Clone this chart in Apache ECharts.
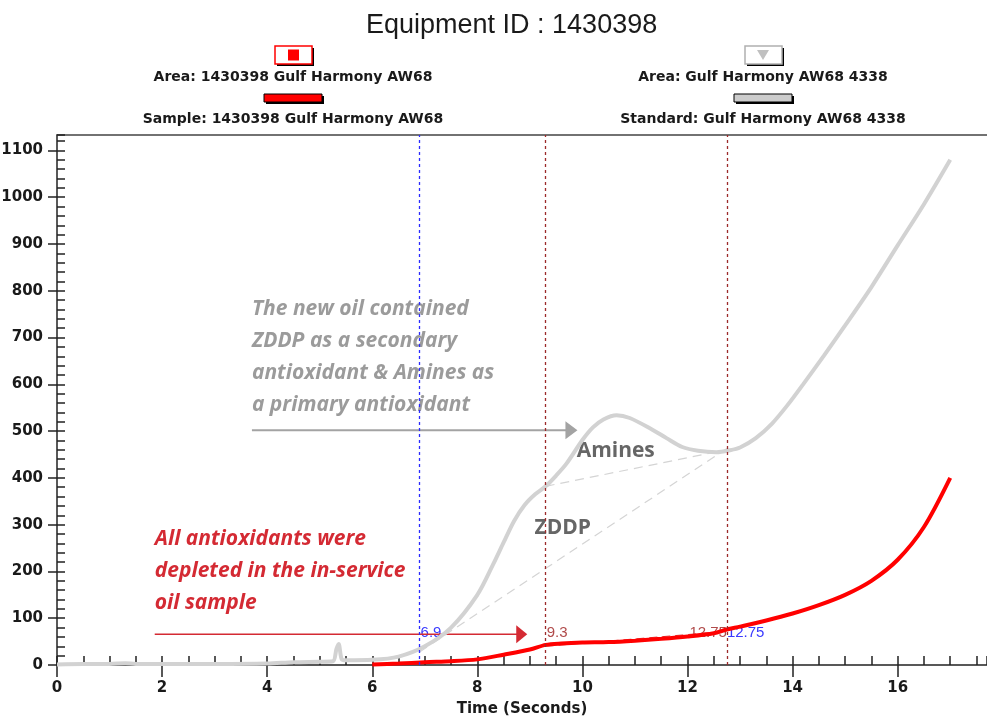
<!DOCTYPE html>
<html><head><meta charset="utf-8">
<script src="https://cdn.jsdelivr.net/npm/echarts@6/dist/echarts.min.js"></script>
<style>html,body{margin:0;padding:0;background:#fff}#c{width:987px;height:719px}</style>
</head><body><div id="c"></div>
<script>
// ---- data ----
var stdTime = [0, 0.5, 1, 1.3, 1.5, 2, 3, 4, 4.5, 5, 5.25, 5.32, 5.36, 5.42, 5.5, 6, 6.5, 7, 7.5, 8, 8.3, 8.5, 8.7, 8.9, 9.1, 9.3, 9.5, 9.7, 10, 10.2, 10.4, 10.65, 10.9, 11.3, 11.6, 11.9, 12.2, 12.55, 12.8, 13, 13.3, 13.6, 13.9, 14.2, 14.6, 15, 15.5, 16, 16.5, 17];
var stdVal  = [1, 2, 2, 4, 2, 2, 2, 3, 6, 7, 8, 35, 45, 12, 10, 11, 18, 40, 80, 150, 215, 262, 308, 342, 365, 382, 405, 431, 481, 508, 525, 534, 528, 505, 485, 466, 458, 455, 459, 465, 485, 515, 555, 600, 662, 726, 808, 897, 985, 1080];
var sampleTime = [6, 6.5, 7, 7.5, 8, 8.5, 9, 9.3, 9.6, 10, 10.5, 11, 11.5, 12, 12.5, 12.75, 13, 13.5, 14, 14.5, 15, 15.5, 16, 16.5, 17];
var sampleVal  = [1, 3, 6, 8, 12, 22, 33, 43, 46, 48, 49, 52, 56, 61, 68, 76, 82, 95, 110, 128, 150, 180, 225, 295, 400];
var aminesLine = [[9.3, 382], [12.75, 460]];
var zddpLine = [[6.9, 28], [12.75, 463]];
var sampleTangent = [[9.3, 40], [12.75, 72]];
var markerBlue = [6.9];
var markerRed = [9.3, 12.75];
var markerLabelY = 68;
var xTicks = {min: 0, max: 17.7, interval: 2, minor: 0.5};
var yTicks = {min: 0, max: 1133, interval: 100, minor: 20};
var titleText = 'Equipment ID : 1430398';
var legendLeft = ['Area: 1430398 Gulf Harmony AW68', 'Sample: 1430398 Gulf Harmony AW68'];
var legendRight = ['Area: Gulf Harmony AW68 4338', 'Standard: Gulf Harmony AW68 4338'];
var noteGray = ['The new oil contained', 'ZDDP as a secondary', 'antioxidant & Amines as', 'a primary antioxidant'];
var noteRed = ['All antioxidants were', 'depleted in the in-service', 'oil sample'];

function zip(a, b) { return a.map(function (v, i) { return [v, b[i]]; }); }

var chart = echarts.init(document.getElementById('c'), null, {renderer: 'canvas'});
var gridPos = {left: 57, right: 0, top: 135, bottom: 54, outerBoundsMode: 'none', containLabel: false};
var axisFont = {fontFamily: 'DejaVu Sans', fontWeight: 'bold', fontSize: 15, color: '#1a1a1a'};
var lineCol = '#222';

var option = {
  animation: false,
  backgroundColor: '#fff',
  title: {text: titleText, left: 361, top: 7,
    textStyle: {fontFamily: 'Liberation Sans', fontWeight: 'normal', fontSize: 27, color: '#1a1a1a'}},
  grid: [Object.assign({}, gridPos), Object.assign({}, gridPos)],
  xAxis: [
    {type: 'value', gridIndex: 0, min: xTicks.min, max: xTicks.max, interval: xTicks.interval, position: 'bottom',
     axisLine: {show: true, lineStyle: {color: lineCol, width: 1.5}},
     axisTick: {show: true, inside: false, length: 12, lineStyle: {color: lineCol, width: 1.5}},
     axisLabel: Object.assign({margin: 16, showMaxLabel: false}, axisFont),
     splitLine: {show: false},
     name: 'Time (Seconds)', nameLocation: 'middle', nameGap: 37,
     nameTextStyle: {fontFamily: 'DejaVu Sans', fontWeight: 'bold', fontSize: 15, color: '#1a1a1a'}},
    {type: 'value', gridIndex: 1, min: xTicks.min, max: xTicks.max, interval: xTicks.minor, position: 'bottom',
     axisLine: {show: false}, axisLabel: {show: false}, splitLine: {show: false},
     axisTick: {show: true, inside: true, length: 9, lineStyle: {color: lineCol, width: 1.5}}},
    {type: 'value', gridIndex: 1, min: xTicks.min, max: xTicks.max, position: 'top',
     axisLine: {show: true, lineStyle: {color: '#444', width: 1.5}}, axisLabel: {show: false},
     axisTick: {show: false}, splitLine: {show: false}}
  ],
  yAxis: [
    {type: 'value', gridIndex: 0, min: yTicks.min, max: yTicks.max, interval: yTicks.interval,
     axisLine: {show: true, lineStyle: {color: lineCol, width: 1.5}},
     axisTick: {show: true, inside: false, length: 9, lineStyle: {color: lineCol, width: 1.5}},
     axisLabel: Object.assign({margin: 14, showMaxLabel: false, formatter: function (v) { return String(v); }}, axisFont),
     splitLine: {show: false}},
    {type: 'value', gridIndex: 1, min: yTicks.min, max: yTicks.max, interval: yTicks.minor,
     axisLine: {show: false}, axisLabel: {show: false}, splitLine: {show: false},
     axisTick: {show: true, inside: true, length: 8, lineStyle: {color: lineCol, width: 1.5}}}
  ],
  series: [
    {type: 'line', name: 'zddp', data: zddpLine, showSymbol: false, silent: true,
     lineStyle: {color: '#d4d4d4', width: 1.2, type: [9, 6]}},
    {type: 'line', name: 'amines', data: aminesLine, showSymbol: false, silent: true,
     lineStyle: {color: '#d4d4d4', width: 1.2, type: [9, 6]}},
    {type: 'line', name: 'Standard', data: zip(stdTime, stdVal), showSymbol: false, smooth: 0.3,
     lineStyle: {color: '#d2d2d2', width: 4},
     markLine: {silent: true, symbol: 'none', label: {show: false},
       data: markerBlue.map(function (v) { return {xAxis: v, lineStyle: {color: '#2a2aff', type: [3, 3], width: 1.3}}; })
         .concat(markerRed.map(function (v) { return {xAxis: v, lineStyle: {color: '#9c2a2a', type: [3, 3], width: 1.3}}; }))}},
    {type: 'line', name: 'tangent', data: sampleTangent, showSymbol: false, silent: true,
     lineStyle: {color: '#e03030', width: 1, type: [8, 5]}},
    {type: 'line', name: 'Sample', data: zip(sampleTime, sampleVal), showSymbol: false, smooth: 0.3,
     lineStyle: {color: '#ff0000', width: 4}}
  ]
};
chart.setOption(option);

function px(x, y) { return chart.convertToPixel({gridIndex: 0}, [x, y]); }

var g = [];
function legendBlock(cx, icon, bar, texts) {
  var els = [];
  els.push({type: 'rect', shape: {x: cx - 18 + 2, y: 46 + 2, width: 37, height: 18}, style: {fill: '#000'}});
  els.push({type: 'rect', shape: {x: cx - 18, y: 46, width: 37, height: 18}, style: {fill: '#fff', stroke: icon.stroke, lineWidth: 1.5}});
  if (icon.kind === 'square') {
    els.push({type: 'rect', shape: {x: cx - 5, y: 49.5, width: 11, height: 11}, style: {fill: icon.fill}});
  } else {
    els.push({type: 'polygon', shape: {points: [[cx - 6, 50], [cx + 6, 50], [cx, 60]]}, style: {fill: icon.fill}});
  }
  els.push({type: 'rect', shape: {x: cx - 29 + 2, y: 94 + 2, width: 58, height: 8}, style: {fill: '#000'}});
  els.push({type: 'rect', shape: {x: cx - 29, y: 94, width: 58, height: 8}, style: {fill: bar, stroke: '#000', lineWidth: 1}});
  els.push({type: 'text', x: cx, y: 77, style: {text: texts[0], align: 'center', verticalAlign: 'middle',
    font: 'bold 14px "DejaVu Sans"', fill: '#1a1a1a'}});
  els.push({type: 'text', x: cx, y: 119, style: {text: texts[1], align: 'center', verticalAlign: 'middle',
    font: 'bold 14px "DejaVu Sans"', fill: '#1a1a1a'}});
  return els;
}
g = g.concat(legendBlock(293, {kind: 'square', stroke: '#ff0000', fill: '#ff0000'}, '#ff0000', legendLeft));
g = g.concat(legendBlock(763, {kind: 'tri', stroke: '#b0b0b0', fill: '#c0c0c0'}, '#cccccc', legendRight));

var lf = '15px "Liberation Sans"';
var pb = px(markerBlue[0], markerLabelY);
g.push({type: 'text', x: pb[0] + 1, y: pb[1], style: {text: String(markerBlue[0]), align: 'left', verticalAlign: 'middle', font: lf, fill: '#3a3aff'}});
var p1 = px(markerRed[0], markerLabelY);
g.push({type: 'text', x: p1[0] + 1, y: p1[1], style: {text: String(markerRed[0]), align: 'left', verticalAlign: 'middle', font: lf, fill: '#b04a4a'}});
var p2 = px(markerRed[1], markerLabelY);
g.push({type: 'text', x: p2[0], y: p2[1], style: {text: String(markerRed[1]), align: 'right', verticalAlign: 'middle', font: lf, fill: '#b04a4a'}});
g.push({type: 'text', x: p2[0], y: p2[1], style: {text: String(markerRed[1]), align: 'left', verticalAlign: 'middle', font: lf, fill: '#3a3aff'}});

function arrow(from, to, color, w, hw, hl) {
  var a = px(from[0], from[1]), b = px(to[0], to[1]);
  return [
    {type: 'line', shape: {x1: a[0], y1: a[1], x2: b[0] - hl + 1, y2: b[1]}, style: {stroke: color, lineWidth: w}},
    {type: 'polygon', shape: {points: [[b[0] - hl, b[1] - hw], [b[0], b[1]], [b[0] - hl, b[1] + hw]]}, style: {fill: color}}
  ];
}
g = g.concat(arrow([3.71, 502], [9.905, 502], '#a3a3a3', 2, 9, 12));
g = g.concat(arrow([1.86, 66], [8.95, 66], '#d42a33', 1.5, 9, 11));

var tg = px(3.71, 760);
noteGray.forEach(function (t, i) {
  g.push({type: 'text', x: tg[0], y: tg[1] + i * 32, style: {text: t, align: 'left', verticalAlign: 'middle',
    font: 'italic bold 21px "Open Sans"', fill: '#9b9b9b'}});
});
var tr = px(1.86, 270);
noteRed.forEach(function (t, i) {
  g.push({type: 'text', x: tr[0], y: tr[1] + i * 32, style: {text: t, align: 'left', verticalAlign: 'middle',
    font: 'italic bold 21px "Open Sans"', fill: '#d42a33'}});
});
var pa = px(9.89, 457);
g.push({type: 'text', x: pa[0], y: pa[1], style: {text: 'Amines', align: 'left', verticalAlign: 'middle', font: 'bold 21px "Open Sans"', fill: '#666666'}});
var pz = px(9.09, 293);
g.push({type: 'text', x: pz[0], y: pz[1], style: {text: 'ZDDP', align: 'left', verticalAlign: 'middle', font: 'bold 21px "Open Sans"', fill: '#666666'}});

chart.setOption({graphic: {elements: g}});
</script></body></html>
